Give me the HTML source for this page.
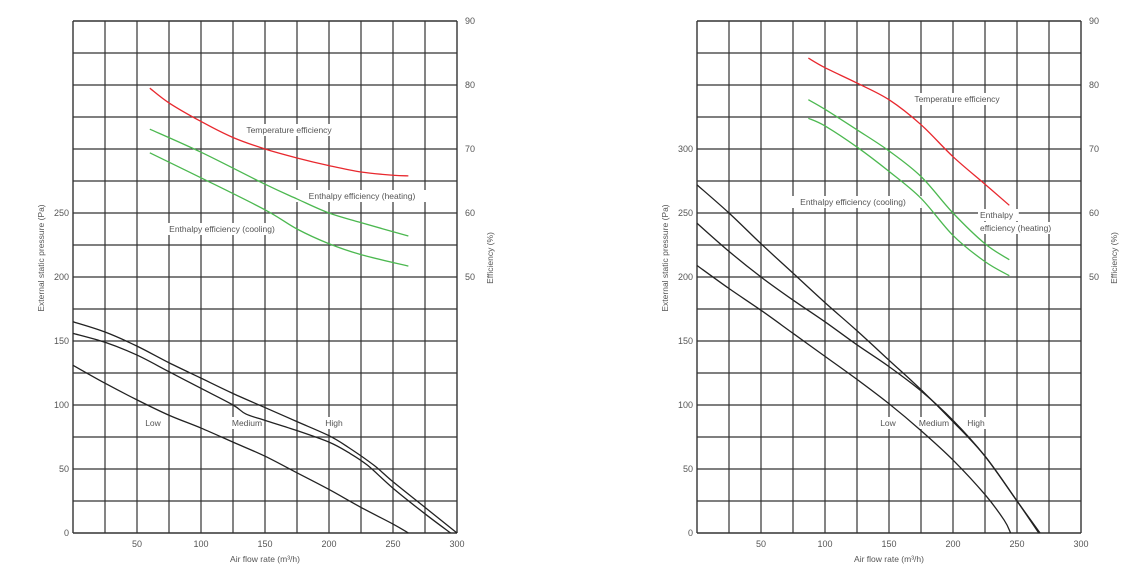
<!DOCTYPE html>
<html><head><meta charset="utf-8"><style>
html,body{margin:0;padding:0;background:#fff;}
svg{display:block;font-family:"Liberation Sans",sans-serif;}
</style></head><body>
<svg id="s" width="1133" height="587" viewBox="0 0 1133 587" xmlns="http://www.w3.org/2000/svg"></svg>
<script>
const s=document.getElementById('s');let h='';
function smooth(P){let d=`M${P[0][0]},${P[0][1]}`;for(let i=0;i<P.length-1;i++){const p0=P[i-1]||P[i],p1=P[i],p2=P[i+1],p3=P[i+2]||p2;
const c1=[p1[0]+(p2[0]-p0[0])/6,p1[1]+(p2[1]-p0[1])/6],c2=[p2[0]-(p3[0]-p1[0])/6,p2[1]-(p3[1]-p1[1])/6];
d+=` C${c1[0]},${c1[1]} ${c2[0]},${c2[1]} ${p2[0]},${p2[1]}`;}return d;}
function chart(x0,d){
  const X=q=>x0+q*1.28, Y=p=>533-p*1.28, E=e=>277-(e-50)*6.4;
  for(let i=0;i<=12;i++){h+=`<line x1="${x0+i*32}" y1="21" x2="${x0+i*32}" y2="533" stroke="#333" stroke-width="${i==0||i==12?1.4:1.2}"/>`;}
  for(let j=0;j<=16;j++){h+=`<line x1="${x0}" y1="${533-j*32}" x2="${x0+384}" y2="${533-j*32}" stroke="#333" stroke-width="${j==0||j==16?1.4:1.2}"/>`;}
  for(let q=50;q<=300;q+=50)h+=`<text x="${X(q)}" y="547" font-size="9" fill="#555" text-anchor="middle">${q}</text>`;
  for(let p=0;p<=d.pmax;p+=50)h+=`<text x="${x0-4}" y="${Y(p)+3}" font-size="9" fill="#555" text-anchor="end">${p}</text>`;
  for(let e=50;e<=90;e+=10)h+=`<text x="${x0+392}" y="${E(e)+3}" font-size="9" fill="#555">${e}</text>`;
  h+=`<text x="${x0+192}" y="562" font-size="8.5" fill="#555" text-anchor="middle">Air flow rate (m³/h)</text>`;
  h+=`<text transform="translate(${x0-29},${258}) rotate(-90)" font-size="8.5" fill="#555" text-anchor="middle">External static pressure (Pa)</text>`;
  h+=`<text transform="translate(${x0+420},${258}) rotate(-90)" font-size="8.5" fill="#555" text-anchor="middle">Efficiency (%)</text>`;
  d.labels.forEach(l=>{const w=l[0].length*4.6;const x=l[3]=='start'?l[1]:l[1]-w/2;h+=`<rect x="${x-2}" y="${l[2]-9}" width="${w+4}" height="12" fill="#fff"/>`;});
  const path=(pts,f,c)=>{h+=`<path fill="none" stroke="${c}" stroke-width="1.3" d="${smooth(pts.map(p=>[X(p[0]),f(p[1])]))}"/>`;};
  d.fan.forEach(c=>path(c,Y,'#222'));
  path(d.temp,E,'#e8282e');path(d.heat,E,'#4cb850');path(d.cool,E,'#4cb850');
  d.labels.forEach(l=>{h+=`<text x="${l[1]}" y="${l[2]}" font-size="8.5" fill="#555" text-anchor="${l[3]||'middle'}">${l[0]}</text>`;});
}
chart(73,{pmax:250,
 fan:[[[0,165],[25,157],[50,146],[75,133],[100,121],[125,109],[150,98],[175,87],[200,76],[215,67],[235,53],[250,40],[275,20],[300,0]],
 [[0,156],[25,149],[50,139],[75,126],[100,113],[125,100],[135,93],[150,88],[175,80],[200,71],[215,63],[230,53],[250,35],[275,15],[295,0]],
 [[0,131],[25,117],[50,104],[75,92],[100,82],[125,71],[150,60],[175,47],[200,34],[225,20],[250,7],[262,0]]],
 temp:[[60,79.5],[75,77.2],[100,74.3],[125,71.8],[150,70],[175,68.6],[200,67.4],[225,66.4],[250,65.9],[262,65.8]],
 heat:[[60,73.1],[100,69.5],[150,64.5],[175,62.2],[200,60],[225,58.5],[262,56.4]],
 cool:[[60,69.4],[100,65.5],[150,60.5],[175,57.5],[200,55.2],[225,53.5],[262,51.7]],
 labels:[["Temperature efficiency",289,133],["Enthalpy efficiency (heating)",362,199],["Enthalpy efficiency (cooling)",222,232],["Low",153,426],["Medium",247,426],["High",334,426]]});
chart(697,{pmax:300,
 fan:[[[0,272],[25,250],[50,226],[75,203],[100,180],[125,158],[150,135],[175,112],[200,87],[225,60],[250,25],[268,0]],
 [[0,242],[25,220],[50,200],[75,182],[100,165],[125,147],[150,130],[175,111],[200,88],[225,60],[250,25],[267,0]],
 [[0,209],[25,191],[50,174],[75,156],[100,138],[125,120],[150,101],[175,80],[200,57],[225,30],[240,10],[245,0]]],
 temp:[[87,84.2],[100,82.7],[125,80.3],[150,77.7],[175,73.8],[200,68.8],[225,64.5],[244,61.2]],
 heat:[[87,77.7],[100,76.2],[125,73],[150,69.7],[175,65.7],[200,60],[225,55.2],[244,52.7]],
 cool:[[87,74.8],[100,73.6],[125,70.3],[150,66.5],[175,62.3],[200,56.5],[225,52.4],[244,50.2]],
 labels:[["Temperature efficiency",957,102],["Enthalpy efficiency (cooling)",853,205],["Enthalpy",980,218,"start"],["efficiency (heating)",980,231,"start"],["Low",888,426],["Medium",934,426],["High",976,426]]});
s.innerHTML=h;
</script>
</body></html>
